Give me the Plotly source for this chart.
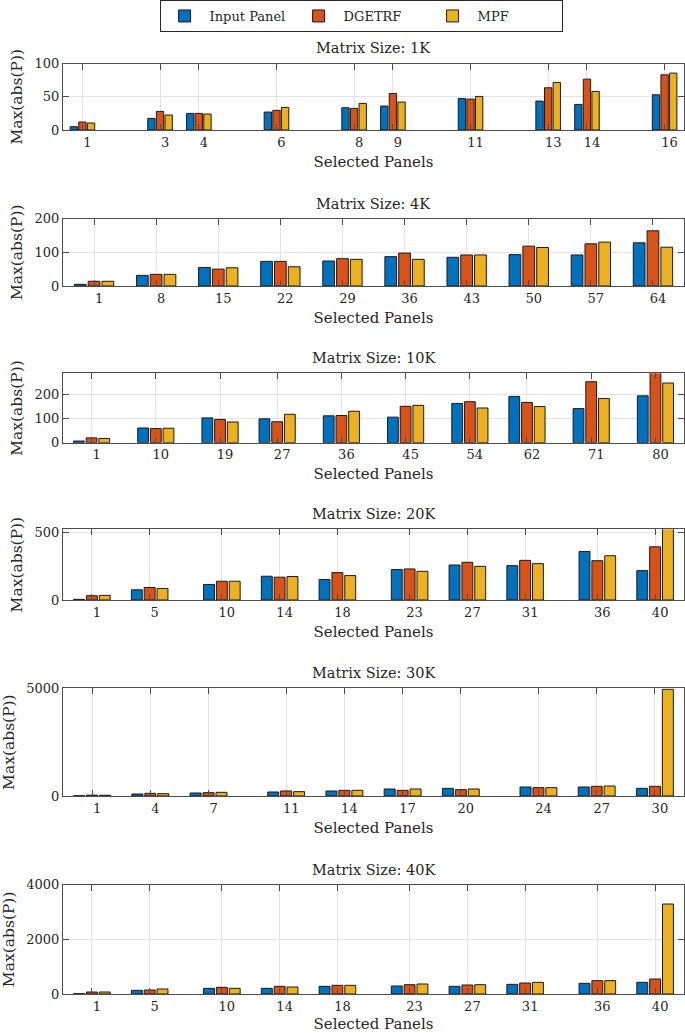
import plotly.graph_objects as go

# ---------------- data ----------------
series_names = ["Input Panel", "DGETRF", "MPF"]
matrix_sizes = ["1K", "4K", "10K", "20K", "30K", "40K"]

panels_1k = [1, 3, 4, 6, 8, 9, 11, 13, 14, 16]
input_1k = [5, 17.5, 25, 27, 33.5, 36, 47.5, 43.5, 38.5, 53]
dgetrf_1k = [12, 28, 25, 29.5, 32.5, 55, 46.5, 63.5, 76.5, 83]
mpf_1k = [10.5, 22.5, 24, 34, 40, 42, 50.5, 71.5, 58, 85.5]

panels_4k = [1, 8, 15, 22, 29, 36, 43, 50, 57, 64]
input_4k = [5, 31.5, 55, 73, 74, 87, 85, 93, 92, 128]
dgetrf_4k = [14, 34.5, 50, 73, 81, 97.5, 92, 118, 125, 163.5]
mpf_4k = [14, 34.5, 54, 57, 79, 79, 92, 114, 130, 115]

panels_10k = [1, 10, 19, 27, 36, 45, 54, 62, 71, 80]
input_10k = [7, 61, 103, 99, 111.5, 106, 163, 192, 141.5, 194.5]
dgetrf_10k = [20, 58.5, 96.5, 87, 113, 151, 170, 167, 253, 300]
mpf_10k = [17.5, 60, 86, 118, 130.5, 155, 144, 150, 183.5, 247.5]

panels_20k = [1, 5, 10, 14, 18, 23, 27, 31, 36, 40]
input_20k = [5, 76, 116, 177, 153, 227, 261, 256, 362, 219]
dgetrf_20k = [32, 93.5, 140, 170, 204, 231.5, 281, 295.5, 293, 396.5]
mpf_20k = [34.5, 86, 140, 175, 182, 214, 251, 271, 330, 540]

panels_30k = [1, 4, 7, 11, 14, 17, 20, 24, 27, 30]
input_30k = [10, 93, 139, 186, 232, 325, 356, 418, 418, 356]
dgetrf_30k = [40, 124, 155, 232, 263, 263, 294, 387, 449, 449]
mpf_30k = [35, 108, 170, 201, 263, 325, 325, 387, 464, 4954]

panels_40k = [1, 5, 10, 14, 18, 23, 27, 31, 36, 40]
input_40k = [10, 134, 207, 207, 280, 293, 280, 354, 390, 427]
dgetrf_40k = [73, 146, 244, 280, 317, 341, 329, 402, 488, 549]
mpf_40k = [73, 183, 207, 256, 317, 366, 341, 427, 488, 3293]

y_limits = [100, 200, 288, 527, 5000, 4000]
y_ticks = [[0, 50, 100], [0, 100, 200], [0, 100, 200], [0, 500],
           [0, 5000], [0, 2000, 4000]]

panel_sets = [panels_1k, panels_4k, panels_10k, panels_20k, panels_30k, panels_40k]
value_sets = [
    (input_1k, dgetrf_1k, mpf_1k),
    (input_4k, dgetrf_4k, mpf_4k),
    (input_10k, dgetrf_10k, mpf_10k),
    (input_20k, dgetrf_20k, mpf_20k),
    (input_30k, dgetrf_30k, mpf_30k),
    (input_40k, dgetrf_40k, mpf_40k),
]

# ---------------- style ----------------
colors = ["#0072BD", "#D95319", "#EDB120"]
FONT = "DejaVu Serif"
TXT = "#262626"
W, H = 685, 1033
# pixel boxes (top, bottom) of each axes
boxes = [(63.5, 130), (218.5, 286), (373.3, 442.7), (529.3, 600),
         (688.3, 796), (884.7, 994)]

fig = go.Figure()

for i, (xs, vals) in enumerate(zip(panel_sets, value_sets)):
    sfx = "" if i == 0 else str(i + 1)
    for j, (name, v) in enumerate(zip(series_names, vals)):
        fig.add_trace(go.Bar(
            x=xs, y=v, name=name,
            marker=dict(color=colors[j], line=dict(color="#1a1a1a", width=1)),
            xaxis="x" + sfx, yaxis="y" + sfx,
            showlegend=(i == 0), legendgroup=name,
        ))

    d = min(b - a for a, b in zip(xs[:-1], xs[1:]))
    top, bot = boxes[i]
    dom = [1 - bot / H, 1 - top / H]
    axcommon = dict(
        showline=True, linecolor="#4d4d4d", linewidth=1, mirror="ticks",
        ticks="inside", ticklen=6, tickcolor="#4d4d4d",
        showgrid=True, gridcolor="#e3e3e3", gridwidth=1, zeroline=False,
        automargin=False,
        tickfont=dict(family=FONT, size=13, color=TXT),
    )
    fig.update_layout(**{
        "xaxis" + sfx: dict(
            axcommon, domain=[0, 1], anchor="y" + sfx,
            range=[xs[0] - d / 2, xs[-1] + d / 2],
            tickmode="array", tickvals=xs, ticktext=[str(p) for p in xs],
            ticklabelshift=5,
            title=dict(text="Selected Panels", standoff=7,
                       font=dict(family=FONT, size=15, color=TXT)),
        ),
        "yaxis" + sfx: dict(
            axcommon, domain=dom, anchor="x" + sfx,
            range=[0, y_limits[i]], tickmode="array", tickvals=y_ticks[i],
            title=dict(text="Max(abs(P))", standoff=8,
                       font=dict(family=FONT, size=15.5, color=TXT)),
        ),
    })
    fig.add_annotation(
        text="Matrix Size: " + matrix_sizes[i], xref="paper", yref="paper",
        x=0.5, y=dom[1], xanchor="center", yanchor="bottom", yshift=5,
        showarrow=False, font=dict(family=FONT, size=14.5, color=TXT),
    )

fig.update_layout(
    template="none",
    width=W, height=H, autosize=False,
    margin=dict(l=63, r=1, t=0, b=0, autoexpand=False),
    paper_bgcolor="white", plot_bgcolor="white",
    barmode="group", bargap=1 / 3, bargroupgap=0.15,
    font=dict(family=FONT, size=13, color=TXT),
    showlegend=True,
    legend=dict(
        orientation="h", x=0.48, xanchor="center", y=1.0, yanchor="top",
        bordercolor=TXT, borderwidth=1, bgcolor="white",
        font=dict(family=FONT, size=13, color=TXT),
        itemwidth=40, tracegroupgap=0, entrywidth=79, entrywidthmode="pixels",
    ),
)

fig.write_html(
    "out.html",
    config={"displayModeBar": False},
    post_script="document.body.style.margin='0px';document.body.style.overflow='hidden';",
)
